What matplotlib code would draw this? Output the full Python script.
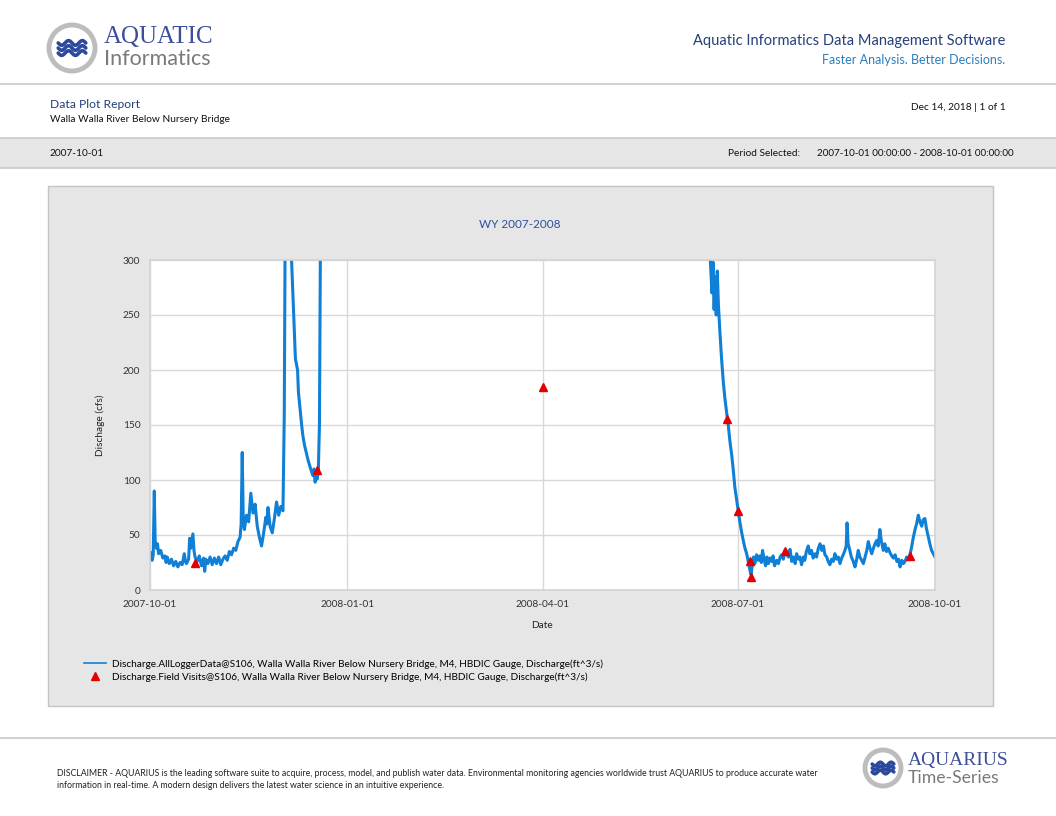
import numpy as np
import pandas as pd
import matplotlib
matplotlib.use('Agg')
import matplotlib.pyplot as plt
import matplotlib.dates as mdates
from matplotlib.patches import Rectangle, Ellipse
from matplotlib.lines import Line2D

plt.rcParams['font.family'] = ['Lato', 'DejaVu Sans']

# --- datos (dias desde 2007-10-01, caudal en cfs) ---
inicio = pd.Timestamp('2007-10-01')

dias_otono = [0, 0.5, 1, 1.5, 2, 2.4, 3, 3.5, 4, 5, 6, 7, 7.5, 8, 9, 10, 11, 12, 13, 14,
              15, 16, 16.5, 17, 18, 18.5, 19, 20, 20.5, 21, 22, 23, 24, 25, 25.5, 26, 27,
              28, 29, 30, 31, 32, 33, 34, 35, 36, 37, 38, 39, 40, 41, 42, 42.5, 43, 43.5,
              44, 45, 46, 47, 48, 49, 50, 51, 52, 53, 54, 54.5, 55, 56, 57, 58, 59, 60,
              61, 62, 62.6, 63, 64, 65, 66, 67, 67.8, 68.3, 68.8, 69.2, 70, 70.7, 71.3,
              72, 73, 73.7, 74.6, 75.4, 76, 76.5, 77, 77.5, 78, 78.5, 79, 79.5]
caudal_otono = [30, 34, 27, 32, 90, 45, 38, 42, 33, 36, 29, 31, 25, 30, 24, 28, 22, 26, 21, 25,
                23, 33, 26, 24, 28, 47, 38, 51, 36, 30, 26, 31, 22, 29, 17, 28, 24,
                30, 23, 29, 24, 30, 23, 28, 31, 27, 35, 32, 38, 36, 44, 48, 60, 125, 62,
                55, 68, 62, 88, 70, 78, 58, 48, 40, 52, 66, 60, 75, 58, 52, 65, 80, 68,
                76, 72, 160, 320, 340, 330, 300, 250, 210, 205, 200, 180, 164, 150, 140,
                132, 124, 118, 112, 107, 104, 110, 98, 106, 101, 110, 150, 330]

dias_verano = [260.5, 261.5, 262, 262.5, 263, 263.5, 264, 264.5, 265, 265.7, 266.5, 267.3,
               268, 268.8, 269.6, 270.4, 271.2, 272, 272.7, 273.5, 274.3, 275, 275.8,
               276.6, 277.4, 278.2, 278.9, 279.5, 280.2, 280.8, 281.4, 282, 282.8, 283.6,
               284.3, 285, 285.6, 286.3, 287, 287.6, 288.3, 289, 289.8, 290.5, 291.2,
               292.2, 293, 293.8, 294.5, 295.3, 296, 296.8, 297.6, 298.4, 299.2, 300,
               300.8, 301.5, 302.3, 303, 303.8, 304.6, 305.3, 306, 306.9, 307.6, 308.4,
               309.2, 310, 310.8, 311.6, 312.4, 313.2, 314, 314.7, 315.5, 316.2, 317,
               317.8, 318.6, 319.3, 320.1, 320.9, 321.7, 322.5, 323.2, 324, 324.6, 325,
               325.5, 326.3, 327, 327.9, 328.7, 329.5, 330.2, 331, 331.8, 332.6, 333.4,
               334.2, 334.9, 335.7, 336.5, 337.3, 338, 338.8, 339.5, 340.3, 341, 341.9,
               342.6, 343.4, 344.2, 345, 345.8, 346.6, 347.4, 348.2, 349, 349.7, 350.5,
               351.3, 352, 352.8, 353.6, 354.3, 355, 355.9, 356.7, 357.4, 358.2, 359,
               359.8, 360.5, 361.3, 362, 362.9, 363.6, 364.4, 365.2, 366]
caudal_verano = [330, 290, 270, 298, 255, 285, 250, 290, 260, 235, 210, 189,
                 175, 162, 150, 135, 123, 108, 93, 82, 71, 62, 53,
                 45, 38, 33, 26, 20, 14, 22, 30, 24, 32, 27,
                 31, 25, 36, 28, 22, 30, 24, 29, 26, 31, 22,
                 27, 24, 30, 32, 28, 36, 34, 30, 37, 26, 30,
                 24, 33, 28, 30, 23, 30, 27, 35, 40, 33, 36,
                 29, 33, 30, 38, 42, 36, 40, 32, 30, 26, 23,
                 28, 26, 33, 28, 30, 24, 29, 32, 36, 40, 61,
                 42, 36, 30, 26, 21, 28, 36, 30, 27, 24, 30,
                 36, 44, 38, 33, 38, 42, 45, 40, 55, 44, 36,
                 42, 35, 38, 34, 31, 29, 32, 26, 28, 21, 27,
                 24, 26, 30, 28, 32, 38, 48, 55, 60, 68, 62,
                 58, 64, 65, 56, 48, 42, 36, 33, 30]

# visitas de campo
dias_visita = [21, 77.9, 183.2, 269.2, 274.3, 279.8, 280.3, 296.2, 354.3]
caudal_visita = [25, 109, 185, 155.5, 72, 26.6, 12, 35.5, 31]

yticks = [0, 50, 100, 150, 200, 250, 300]
xticks = ['2007-10-01', '2008-01-01', '2008-04-01', '2008-07-01', '2008-10-01']

etiqueta_serie = 'Discharge.AllLoggerData@S106, Walla Walla River Below Nursery Bridge, M4, HBDIC Gauge, Discharge(ft^3/s)'
etiqueta_visitas = 'Discharge.Field Visits@S106, Walla Walla River Below Nursery Bridge, M4, HBDIC Gauge, Discharge(ft^3/s)'

# serie completa con hueco entre otono y verano (fechas como numeros de matplotlib)
t0 = mdates.date2num(inicio)
fechas = t0 + np.array(dias_otono + [np.nan] + dias_verano)
caudal = np.array(caudal_otono + [np.nan] + caudal_verano)
fechas_visita = t0 + np.array(dias_visita)

W, H = 1056, 816
fig = plt.figure(figsize=(W / 100, H / 100), dpi=100)
fig.patch.set_facecolor('white')


def fx(px):
    return np.asarray(px) / W


def fy(py):
    return 1 - np.asarray(py) / H


def hline(py, color='#c8c8c8', lw=1.2):
    fig.add_artist(Line2D([0, 1], [fy(py), fy(py)], color=color, lw=lw, transform=fig.transFigure,
                          zorder=-4))


def logo(cx, cy, r):
    fig.add_artist(Ellipse((fx(cx), fy(cy)), 2 * r / W, 2 * r / H, transform=fig.transFigure,
                           facecolor='white', edgecolor='#bdbdbd', lw=3.5))
    t = np.linspace(0, 1, 60)
    for k in (-1, 0, 1):
        xs = cx - 0.6 * r + 1.2 * r * t
        ys = cy + k * 0.22 * r + 0.1 * r * np.sin(t * 4 * np.pi)
        fig.add_artist(Line2D(fx(xs), fy(ys), color='#2b4a9c', lw=2.6, transform=fig.transFigure,
                              solid_capstyle='round'))


# --- encabezado ---
logo(72, 48, 23)
fig.text(fx(104), fy(37), 'AQUATIC', family='Liberation Serif', fontsize=18, color='#3d4f99', va='center')
fig.text(fx(104), fy(59), 'Informatics', fontsize=15.5, color='#7a7a7a', va='center')
fig.text(fx(1005), fy(41), 'Aquatic Informatics Data Management Software', fontsize=10.5,
         color='#24407a', ha='right', va='center')
fig.text(fx(1005), fy(60), 'Faster Analysis. Better Decisions.', fontsize=9,
         color='#2a7fbf', ha='right', va='center')
hline(84)

fig.text(fx(50), fy(104), 'Data Plot Report', fontsize=8.7, color='#24407a', va='center')
fig.text(fx(50), fy(120), 'Walla Walla River Below Nursery Bridge', fontsize=7.3, color='#111111', va='center')
fig.text(fx(1006), fy(107), 'Dec 14, 2018 | 1 of 1', fontsize=7.3, color='#111111', ha='right', va='center')

fig.add_artist(Rectangle((0, fy(168)), 1, (168 - 138) / H, transform=fig.transFigure,
                         facecolor='#e6e6e6', edgecolor='none', zorder=-5))
hline(138)
hline(168)
fig.text(fx(50), fy(153), '2007-10-01', fontsize=7.3, color='#111111', va='center')
fig.text(fx(728), fy(153), 'Period Selected:', fontsize=7.3, color='#111111', va='center')
fig.text(fx(1014), fy(153), '2007-10-01 00:00:00 - 2008-10-01 00:00:00', fontsize=7.1,
         color='#111111', ha='right', va='center')

# --- panel del grafico ---
fig.add_artist(Rectangle((fx(48), fy(706)), (993 - 48) / W, (706 - 186) / H, transform=fig.transFigure,
                         facecolor='#e6e6e6', edgecolor='#c4c4c4', lw=1, zorder=-5))
fig.text(fx(520), fy(225), 'WY 2007-2008', fontsize=8.5, color='#2e4f9e', ha='center', va='center')

ax = fig.add_axes([fx(150), fy(590), (935 - 150) / W, (590 - 260) / H])
ax.set_zorder(1)
ax.set_facecolor('white')
ax.plot(fechas, caudal, color='#0f80d6', lw=2.2, label=etiqueta_serie, zorder=2)
ax.plot(fechas_visita, caudal_visita, linestyle='none', marker='^', color='#e30000',
        markersize=6, label=etiqueta_visitas, zorder=3)

ax.set_ylim(0, 300)
ax.set_xlim(mdates.datestr2num(xticks[0]), mdates.datestr2num(xticks[-1]))
ax.set_yticks(yticks)
ax.set_xticks([mdates.datestr2num(t) for t in xticks])
ax.set_xticklabels(xticks)
ax.grid(True, color='#d9d9d9', lw=1)
ax.set_axisbelow(True)
for s in ax.spines.values():
    s.set_color('#d4d4d4')
    s.set_linewidth(1.2)
ax.tick_params(length=0, labelsize=7.3, labelcolor='#333333', pad=7)
ax.set_xlabel('Date', fontsize=7.3, color='#222222', labelpad=9)
ax.set_ylabel('Dischage (cfs)', fontsize=7.3, color='#222222', labelpad=13)

leg = fig.legend(loc='upper left', bbox_to_anchor=(fx(80), fy(655)), frameon=False, fontsize=7.2,
                 handlelength=2.2, handletextpad=0.6, labelspacing=0.35, borderaxespad=0)
leg.get_lines()[0].set_linewidth(1.2)

# --- pie de pagina ---
hline(738)
fig.text(fx(57), fy(774), 'DISCLAIMER - AQUARIUS is the leading software suite to acquire, process, model, and publish water data. '
         'Environmental monitoring agencies worldwide trust AQUARIUS to produce accurate water',
         fontsize=6.3, color='#222222', va='center')
fig.text(fx(57), fy(785), 'information in real-time. A modern design delivers the latest water science in an intuitive experience.',
         fontsize=6.3, color='#222222', va='center')
logo(883, 768, 18)
fig.text(fx(908), fy(760), 'AQUARIUS', family='Liberation Serif', fontsize=14, color='#3d4f99', va='center')
fig.text(fx(908), fy(778), 'Time-Series', fontsize=12.7, color='#7a7a7a', va='center')

fig.savefig('out.png', dpi=100)
